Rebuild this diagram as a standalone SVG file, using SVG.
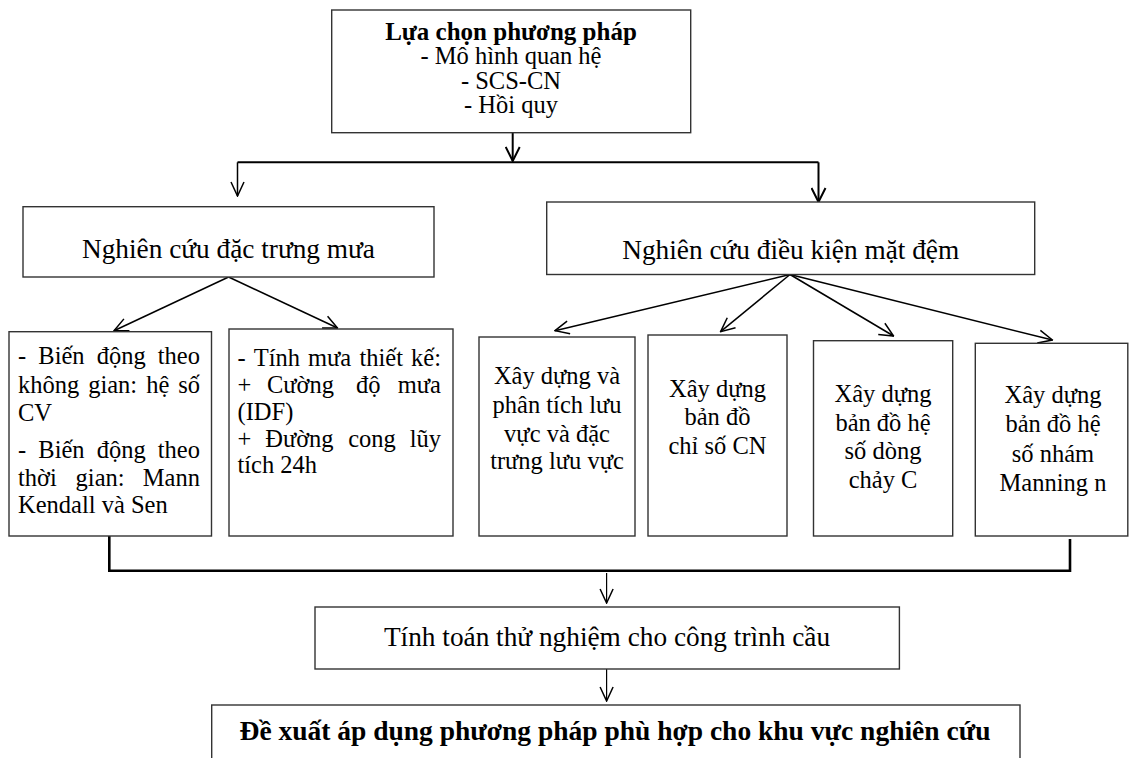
<svg xmlns="http://www.w3.org/2000/svg" width="1130" height="758" viewBox="0 0 1130 758">
<style>
.box{fill:#fff;stroke:#333;stroke-width:1.4}
text{font-family:"Liberation Serif","Times New Roman",serif;fill:#000}
.t{font-size:24.5px}
.c{text-anchor:middle}
.h{font-size:27.3px;text-anchor:middle}
.bt{font-size:25px;font-weight:bold;text-anchor:middle}
.bb{font-size:27.5px;font-weight:bold;text-anchor:middle}
.ln{fill:none;stroke:#000}
</style>
<defs>
<marker id="ah" markerUnits="userSpaceOnUse" viewBox="0 0 16 16" markerWidth="16" markerHeight="16" refX="15" refY="8" orient="auto">
<path d="M1,1 L15,8 L1,15" fill="none" stroke="#000" stroke-width="2"/>
</marker>
<marker id="as" markerUnits="userSpaceOnUse" viewBox="0 0 16 16" markerWidth="16" markerHeight="16" refX="15" refY="8" orient="auto">
<path d="M1,1.5 L15,8 L1,14.5" fill="none" stroke="#000" stroke-width="1.5"/>
</marker>
</defs>

<g id="connectors">
<path class="ln" stroke-width="2" d="M512.7,132.7 V161" marker-end="url(#ah)"/>
<path class="ln" stroke-width="2" d="M237.5,162.3 H818.5"/>
<path class="ln" stroke-width="1.5" d="M237.5,162.3 V196" marker-end="url(#as)"/>
<path class="ln" stroke-width="2" d="M818.5,162.3 V202" marker-end="url(#ah)"/>
<path class="ln" stroke-width="1.5" d="M228.6,277 L114,330.7" marker-end="url(#as)"/>
<path class="ln" stroke-width="1.5" d="M228.6,277 L337.5,328" marker-end="url(#as)"/>
<path class="ln" stroke-width="1.5" d="M790,274.5 L555,330.7" marker-end="url(#as)"/>
<path class="ln" stroke-width="1.5" d="M790,274.5 L720.6,331.7" marker-end="url(#as)"/>
<path class="ln" stroke-width="1.5" d="M790,274.5 L893.6,336" marker-end="url(#as)"/>
<path class="ln" stroke-width="1.5" d="M790,274.5 L1052.4,340" marker-end="url(#as)"/>
<path class="ln" stroke-width="2.6" d="M109.3,536 V570.7 H1070 V539"/>
<path class="ln" stroke-width="1.2" d="M606.6,573 V603" marker-end="url(#as)"/>
<path class="ln" stroke-width="1.2" d="M606.6,669 V701" marker-end="url(#as)"/>
</g>

<g id="n-top">
<rect class="box" x="331.7" y="10" width="359" height="122.7"/>
<text class="bt" x="511" y="39.5">Lựa chọn phương pháp</text>
<text class="t c" x="511" y="64">- Mô hình quan hệ</text>
<text class="t c" x="511" y="88.5">- SCS-CN</text>
<text class="t c" x="511" y="113">- Hồi quy</text>
</g>

<g id="n-mua">
<rect class="box" x="23" y="206.7" width="411" height="70.3"/>
<text class="h" x="228.5" y="257.5">Nghiên cứu đặc trưng mưa</text>
</g>

<g id="n-matdem">
<rect class="box" x="546.7" y="202" width="488" height="72.5"/>
<text class="h" x="790.7" y="259">Nghiên cứu điều kiện mặt đệm</text>
</g>

<g id="n-biendong">
<rect class="box" x="9" y="331.7" width="202.5" height="204.3"/>
<text class="t" y="364"><tspan x="18">-</tspan><tspan x="38.3">Biến</tspan><tspan x="96.7">động</tspan><tspan x="200" text-anchor="end">theo</tspan></text>
<text class="t" y="393"><tspan x="18">không</tspan><tspan x="88.2">gian:</tspan><tspan x="146.2">hệ</tspan><tspan x="200" text-anchor="end">số</tspan></text>
<text class="t" x="18" y="420.5">CV</text>
<text class="t" y="458"><tspan x="18">-</tspan><tspan x="38.3">Biến</tspan><tspan x="96.7">động</tspan><tspan x="200" text-anchor="end">theo</tspan></text>
<text class="t" y="485.5"><tspan x="18">thời</tspan><tspan x="75.6">gian:</tspan><tspan x="200" text-anchor="end">Mann</tspan></text>
<text class="t" x="18" y="513">Kendall và Sen</text>
</g>

<g id="n-muatk">
<rect class="box" x="229" y="329" width="224" height="207"/>
<text class="t" y="366"><tspan x="237.5">-</tspan><tspan x="253.7">Tính</tspan><tspan x="308">mưa</tspan><tspan x="359.4">thiết</tspan><tspan x="441" text-anchor="end">kế:</tspan></text>
<text class="t" y="393"><tspan x="237.5">+</tspan><tspan x="267">Cường</tspan><tspan x="356">độ</tspan><tspan x="441" text-anchor="end">mưa</tspan></text>
<text class="t" x="237.5" y="420">(IDF)</text>
<text class="t" y="446.5"><tspan x="237.5">+</tspan><tspan x="265.2">Đường</tspan><tspan x="348.2">cong</tspan><tspan x="441" text-anchor="end">lũy</tspan></text>
<text class="t" x="237.5" y="473">tích 24h</text>
</g>

<g id="n-luuvuc">
<rect class="box" x="479" y="337" width="156" height="199"/>
<text class="t c" x="557" y="384">Xây dựng và</text>
<text class="t c" x="557" y="412.7">phân tích lưu</text>
<text class="t c" x="557" y="441.7">vực và đặc</text>
<text class="t c" x="557" y="469">trưng lưu vực</text>
</g>

<g id="n-cn">
<rect class="box" x="648" y="335" width="139" height="201"/>
<text class="t c" x="717.5" y="397">Xây dựng</text>
<text class="t c" x="717.5" y="425">bản đồ</text>
<text class="t c" x="717.5" y="454">chỉ số CN</text>
</g>

<g id="n-c">
<rect class="box" x="813.5" y="340.7" width="139.2" height="195.3"/>
<text class="t c" x="883" y="401.7">Xây dựng</text>
<text class="t c" x="883" y="430.7">bản đồ hệ</text>
<text class="t c" x="883" y="459.3">số dòng</text>
<text class="t c" x="883" y="488.3">chảy C</text>
</g>

<g id="n-manning">
<rect class="box" x="975.3" y="343.3" width="152.5" height="192.7"/>
<text class="t c" x="1053" y="403.3">Xây dựng</text>
<text class="t c" x="1053" y="431.7">bản đồ hệ</text>
<text class="t c" x="1053" y="461.7">số nhám</text>
<text class="t c" x="1053" y="490.5">Manning n</text>
</g>

<g id="n-tinhtoan">
<rect class="box" x="315" y="607" width="584.4" height="62"/>
<text class="h" x="607" y="646">Tính toán thử nghiệm cho công trình cầu</text>
</g>

<g id="n-dexuat">
<rect class="box" x="211.7" y="705" width="808.3" height="80"/>
<text class="bb" x="615" y="740">Đề xuất áp dụng phương pháp phù hợp cho khu vực nghiên cứu</text>
</g>
</svg>
